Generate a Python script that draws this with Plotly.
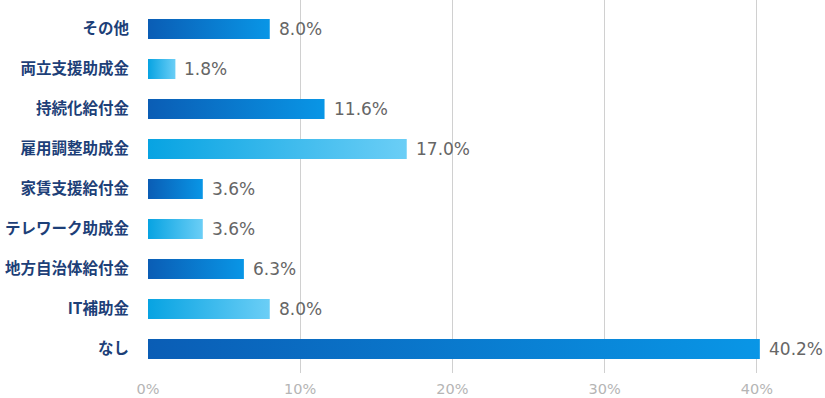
import plotly.graph_objects as go

categories = ["その他", "両立支援助成金", "持続化給付金", "雇用調整助成金", "家賃支援給付金",
              "テレワーク助成金", "地方自治体給付金", "IT補助金", "なし"]
values = [8.0, 1.8, 11.6, 17.0, 3.6, 3.6, 6.3, 8.0, 40.2]
value_labels = ["8.0%", "1.8%", "11.6%", "17.0%", "3.6%", "3.6%", "6.3%", "8.0%", "40.2%"]
x_ticks = [0, 10, 20, 30, 40]

dark_scale = [[0, "#0a5db5"], [1, "#0996e6"]]
light_scale = [[0, "#07a3e2"], [1, "#6bcef6"]]

fig = go.Figure()
half = 0.25
for i, (cat, v) in enumerate(zip(categories, values)):
    scale = dark_scale if i % 2 == 0 else light_scale
    fig.add_trace(go.Scatter(
        x=[0, v, v, 0, 0],
        y=[i - half, i - half, i + half, i + half, i - half],
        mode="none",
        fill="toself",
        fillgradient=dict(type="horizontal", colorscale=scale),
        hoverinfo="skip",
        showlegend=False,
        name=cat,
    ))
    fig.add_annotation(
        x=v, y=i, text=value_labels[i], showarrow=False,
        xanchor="left", yanchor="middle", xshift=7,
        font=dict(family="DejaVu Sans, sans-serif", size=17, color="#666666"),
    )

fig.update_layout(
    width=825, height=398,
    margin=dict(l=148, r=0, t=0, b=25, autoexpand=False),
    plot_bgcolor="white", paper_bgcolor="white",
    xaxis=dict(
        range=[0, 677 / 15.22],
        tickvals=x_ticks,
        ticktext=[f"{t}%" for t in x_ticks],
        showgrid=True, gridcolor="#d0d0d0", gridwidth=1,
        zeroline=False, showline=False, automargin=False,
        ticklabelstandoff=5,
        tickfont=dict(family="DejaVu Sans, sans-serif", size=14.5, color="#b5b5b5"),
        fixedrange=True,
    ),
    yaxis=dict(
        range=[8.6, -0.725],
        tickvals=list(range(len(categories))),
        ticktext=categories,
        showgrid=False, zeroline=False, showline=False, automargin=False,
        ticklabelstandoff=18,
        tickfont=dict(family="Noto Sans CJK JP, sans-serif", size=15.5, color="#1d3f78", weight=600),
        fixedrange=True,
    ),
)

fig.write_html(
    "out.html",
    config={"displayModeBar": False},
    post_script="document.body.style.margin='0';document.body.style.overflow='hidden';",
)
